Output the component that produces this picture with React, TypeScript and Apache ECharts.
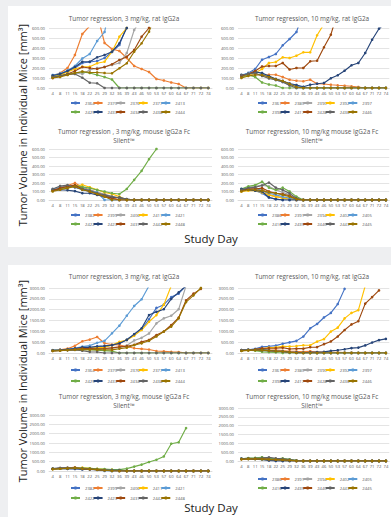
import React, { useEffect, useRef } from 'react';
import * as echarts from 'echarts';

// ---------- categories ----------
const days = ['4', '8', '11', '15', '18', '22', '25', '29', '32', '36', '39', '43', '46', '50', '53', '57', '60', '64', '67', '71', '72', '74'];

// ---------- 3 mg/kg, rat IgG2a ----------
const s2364 = [120, 140, 165, 200, 250, 260, 270, 300, 360, 430, 620, 850, 1100, 1550, 2080, 2230, 2580, 2740, 3100];
const s2370 = [120, 150, 200, 330, 540, 620, 740, 450, 390, 370, 300, 220, 190, 160, 90, 75, 55, 40, 0, 0, 0, 0];
const s2376 = [110, 120, 135, 150, 140, 180, 200, 210, 230, 250, 350, 580, 700, 900, 1370, 1600, 1720, 2020, 3100];
const s2377 = [115, 130, 160, 190, 213, 213, 247, 263, 363, 513, 600, 800, 1060, 1440, 1750, 2230, 3100];
const s2413 = [130, 145, 175, 220, 295, 340, 470, 560, 910, 1260, 1720, 2170, 2480, 3100];
const s2425 = [110, 125, 140, 150, 160, 150, 130, 110, 85, 0, 0, 0, 0, 0, 0, 0, 0, 0, 0, 0, 0, 0];
const s2433 = [125, 140, 170, 210, 263, 263, 307, 330, 363, 447, 600, 870, 1140, 1750, 1900, 2020, 2500, 2800, 3100];
const s2434 = [100, 120, 140, 170, 210, 200, 190, 210, 237, 280, 313, 380, 513, 600, 830, 990, 1290, 1630, 2430, 2740, 2960];
const s2438 = [110, 120, 135, 140, 103, 53, 47, 0, 0, 0, 0, 0, 0, 0, 0, 0, 0, 0, 0, 0, 0, 0];
const s2444 = [100, 110, 130, 150, 165, 155, 155, 150, 147, 197, 247, 363, 447, 563, 760, 990, 1220, 1600, 2350, 2660, 3000];

// ---------- 10 mg/kg, rat IgG2a ----------
const s2361 = [120, 150, 190, 283, 310, 340, 427, 490, 560, 760, 1140, 1340, 1640, 1850, 2260, 2960];
const s2380 = [120, 130, 140, 130, 133, 133, 110, 83, 73, 67, 83, 43, 40, 33, 27, 23, 17, 10, 0, 0, 0, 0];
const s2390 = [110, 130, 140, 130, 110, 90, 70, 40, 20, 0, 0, 0, 0, 0, 0, 0, 0, 0, 0, 0, 0, 0];
const s2392 = [110, 130, 150, 190, 250, 260, 307, 300, 323, 357, 357, 527, 640, 990, 1170, 1600, 1850, 1980, 3100];
const s2397 = [130, 150, 170, 140, 110, 80, 60, 30, 20, 10, 0, 0, 0, 0, 0, 0, 0, 0, 0, 0, 0, 0];
const s2398 = [110, 130, 110, 55, 35, 25, 0, 0, 0, 0, 0, 0, 0, 0, 0, 0, 0, 0, 0, 0, 0, 0];
const s2417 = [130, 140, 160, 150, 120, 90, 70, 45, 30, 12, 33, 43, 50, 97, 127, 173, 227, 250, 350, 483, 593, 650];
const s2428 = [120, 140, 170, 215, 220, 220, 250, 185, 200, 200, 267, 273, 407, 533, 760, 1060, 1320, 1470, 2280, 2580, 2890];
const s2436 = [130, 140, 150, 120, 95, 80, 60, 25, 0, 0, 0, 0, 0, 0, 0, 0, 0, 0, 0, 0, 0, 0];
const s2446 = [100, 120, 130, 130, 110, 85, 70, 40, 10, 0, 0, 0, 0, 0, 0, 0, 0, 0, 0, 0, 0, 0];

// ---------- 3 mg/kg, mouse IgG2a Fc Silent ----------
const s2382 = [120, 140, 160, 150, 120, 100, 80, 50, 0, 0, 0, 0, 0, 0, 0, 0, 0, 0, 0, 0, 0, 0];
const s2399 = [110, 150, 170, 200, 150, 120, 90, 60, 30, 0, 0, 0, 0, 0, 0, 0, 0, 0, 0, 0, 0, 0];
const s2406 = [120, 140, 150, 160, 140, 110, 90, 70, 40, 20, 0, 0, 0, 0, 0, 0, 0, 0, 0, 0, 0, 0];
const s2411 = [110, 130, 150, 160, 180, 150, 120, 90, 70, 40, 0, 0, 0, 0, 0, 0, 0, 0, 0, 0, 0, 0];
const s2421 = [130, 150, 160, 170, 140, 110, 90, 0, 0, 0, 0, 0, 0, 0, 0, 0, 0, 0, 0, 0, 0, 0];
const s2422 = [110, 130, 150, 170, 155, 140, 118, 100, 80, 70, 130, 237, 343, 480, 600, 780, 1460, 1540, 2300];
const s2423 = [120, 120, 115, 105, 80, 80, 60, 40, 30, 30, 10, 0, 0, 0, 0, 0, 0, 0, 0, 0, 0, 0];
const s2431 = [110, 140, 160, 175, 130, 100, 70, 40, 20, 0, 0, 0, 0, 0, 0, 0, 0, 0, 0, 0, 0, 0];
const s2442 = [130, 165, 175, 150, 130, 110, 80, 60, 40, 25, 10, 0, 0, 0, 0, 0, 0, 0, 0, 0, 0, 0];
const s2448 = [100, 120, 140, 160, 120, 100, 70, 40, 0, 0, 0, 0, 0, 0, 0, 0, 0, 0, 0, 0, 0, 0];

// ---------- 10 mg/kg, mouse IgG2a Fc Silent ----------
const s2386 = [120, 120, 110, 80, 30, 10, 0, 0, 0, 0, 0, 0, 0, 0, 0, 0, 0, 0, 0, 0, 0, 0];
const s2391 = [110, 130, 140, 130, 60, 40, 30, 20, 0, 0, 0, 0, 0, 0, 0, 0, 0, 0, 0, 0, 0, 0];
const s2394 = [120, 150, 160, 175, 160, 120, 90, 60, 20, 0, 0, 0, 0, 0, 0, 0, 0, 0, 0, 0, 0, 0];
const s2402 = [100, 110, 110, 90, 60, 40, 20, 10, 0, 0, 0, 0, 0, 0, 0, 0, 0, 0, 0, 0, 0, 0];
const s2405 = [130, 150, 140, 110, 80, 60, 40, 20, 0, 0, 0, 0, 0, 0, 0, 0, 0, 0, 0, 0, 0, 0];
const s2416 = [130, 160, 175, 215, 145, 118, 145, 100, 40, 0, 0, 0, 0, 0, 0, 0, 0, 0, 0, 0, 0, 0];
const s2435 = [130, 120, 110, 100, 30, 10, 0, 0, 0, 0, 0, 0, 0, 0, 0, 0, 0, 0, 0, 0, 0, 0];
const s2440 = [110, 130, 130, 140, 100, 80, 70, 50, 10, 0, 0, 0, 0, 0, 0, 0, 0, 0, 0, 0, 0, 0];
const s2443 = [120, 140, 150, 170, 205, 145, 118, 78, 20, 0, 0, 0, 0, 0, 0, 0, 0, 0, 0, 0, 0, 0];
const s2445 = [100, 120, 120, 110, 90, 80, 60, 40, 10, 0, 0, 0, 0, 0, 0, 0, 0, 0, 0, 0, 0, 0];

// ---------- groups ----------
const rat3Names = ['2364', '2370', '2376', '2377', '2413', '2425', '2433', '2434', '2438', '2444'];
const rat3Values = [s2364, s2370, s2376, s2377, s2413, s2425, s2433, s2434, s2438, s2444];
const rat10Names = ['2361', '2380', '2390', '2392', '2397', '2398', '2417', '2428', '2436', '2446'];
const rat10Values = [s2361, s2380, s2390, s2392, s2397, s2398, s2417, s2428, s2436, s2446];
const mouse3Names = ['2382', '2399', '2406', '2411', '2421', '2422', '2423', '2431', '2442', '2448'];
const mouse3Values = [s2382, s2399, s2406, s2411, s2421, s2422, s2423, s2431, s2442, s2448];
const mouse10Names = ['2386', '2391', '2394', '2402', '2405', '2416', '2435', '2440', '2443', '2445'];
const mouse10Values = [s2386, s2391, s2394, s2402, s2405, s2416, s2435, s2440, s2443, s2445];

const palette = ['#4472C4', '#ED7D31', '#A5A5A5', '#FFC000', '#5B9BD5', '#70AD47', '#264478', '#9E480E', '#636363', '#997300'];

const FONT = "'Open Sans', 'Noto Sans', sans-serif";
const GRAY_TEXT = '#595959';

type Sub = {
  names: string[];
  values: number[][];
  max: number;
  interval: number;
  left: number;
  top: number;
  height: number;
  titleLines: string[];
  titleX: number;
  titleY: number;
  legendLeft: number;
  legendY: [number, number];
};

const L = 49;
const R = 238;
const W = 163;

const subs: Sub[] = [
  // ---- top card (max 600) ----
  { names: rat3Names, values: rat3Values, max: 600, interval: 100, left: L, top: 28, height: 60,
    titleLines: ['Tumor regression, 3 mg/kg, rat IgG2a'], titleX: 124, titleY: 18, legendLeft: 70, legendY: [104, 113] },
  { names: rat10Names, values: rat10Values, max: 600, interval: 100, left: R, top: 28, height: 60,
    titleLines: ['Tumor regression, 10 mg/kg, rat IgG2a'], titleX: 312, titleY: 18, legendLeft: 257, legendY: [104, 113] },
  { names: mouse3Names, values: mouse3Values, max: 600, interval: 100, left: L, top: 149, height: 51,
    titleLines: ['Tumor regression , 3 mg/kg, mouse IgG2a Fc', 'Silent™'], titleX: 124, titleY: 131, legendLeft: 70, legendY: [216, 225] },
  { names: mouse10Names, values: mouse10Values, max: 600, interval: 100, left: R, top: 149, height: 51,
    titleLines: ['Tumor regression, 10 mg/kg mouse IgG2a Fc', 'Silent™'], titleX: 312, titleY: 131, legendLeft: 257, legendY: [216, 225] },
  // ---- bottom card (max 3000) ----
  { names: rat3Names, values: rat3Values, max: 3000, interval: 500, left: L, top: 288, height: 65,
    titleLines: ['Tumor regression, 3 mg/kg, rat IgG2a'], titleX: 124, titleY: 276, legendLeft: 70, legendY: [371, 382] },
  { names: rat10Names, values: rat10Values, max: 3000, interval: 500, left: R, top: 288, height: 65,
    titleLines: ['Tumor regression, 10 mg/kg, rat IgG2a'], titleX: 312, titleY: 276, legendLeft: 257, legendY: [371, 382] },
  { names: mouse3Names, values: mouse3Values, max: 3000, interval: 500, left: L, top: 415, height: 56,
    titleLines: ['Tumor regression, 3 mg/kg, mouse IgG2a Fc', 'Silent™'], titleX: 124, titleY: 396, legendLeft: 70, legendY: [489, 499] },
  { names: mouse10Names, values: mouse10Values, max: 3000, interval: 500, left: R, top: 408, height: 53,
    titleLines: ['Tumor regression, 10 mg/kg mouse IgG2a Fc', 'Silent™'], titleX: 312, titleY: 396, legendLeft: 257, legendY: [480, 489] },
];

function buildOption(): any {
  const grid: any[] = [];
  const xAxis: any[] = [];
  const yAxis: any[] = [];
  const series: any[] = [];
  const legend: any[] = [];
  const graphic: any[] = [];

  subs.forEach((s, k) => {
    grid.push({ left: s.left, top: s.top, width: W, height: s.height, containLabel: false });
    xAxis.push({
      type: 'category', gridIndex: k, data: days, boundaryGap: true,
      axisTick: { show: false },
      axisLine: { lineStyle: { color: '#d9d9d9', width: 0.8 } },
      axisLabel: { interval: 0, fontSize: 4.2, color: GRAY_TEXT, margin: 3, fontFamily: FONT },
      splitLine: { show: false },
    });
    yAxis.push({
      type: 'value', gridIndex: k, min: 0, max: s.max, interval: s.interval,
      axisLine: { show: false }, axisTick: { show: false },
      axisLabel: { fontSize: 4.2, color: GRAY_TEXT, margin: 4, fontFamily: FONT, formatter: (v: number) => v.toFixed(2) },
      splitLine: { lineStyle: { color: '#d9d9d9', width: 0.7 } },
    });
    s.names.forEach((name, i) => {
      series.push({
        type: 'line', name, data: s.values[i], xAxisIndex: k, yAxisIndex: k,
        symbol: 'circle', symbolSize: 2.6, showSymbol: true,
        lineStyle: { width: 1.15, color: palette[i] },
        itemStyle: { color: palette[i] },
        color: palette[i],
        emphasis: { disabled: true },
        z: 2 + i * 0.01,
      });
    });
    [0, 1].forEach((row) => {
      legend.push({
        type: 'plain', orient: 'horizontal', left: s.legendLeft, top: s.legendY[row] - 3,
        data: s.names.slice(row * 5, row * 5 + 5),
        itemWidth: 9, itemHeight: 4, itemGap: -2, padding: 0, selectedMode: false,
        textStyle: { fontSize: 4.2, color: GRAY_TEXT, fontFamily: FONT },
      });
    });
    s.titleLines.forEach((t, j) => {
      graphic.push({
        type: 'text', x: s.titleX, y: s.titleY + j * 9,
        style: { text: t, fontSize: 6.4, fontFamily: FONT, fill: GRAY_TEXT, align: 'center', verticalAlign: 'middle' },
      });
    });
  });

  // axis titles for each card
  [125, 381].forEach((cy) => {
    graphic.push({
      type: 'text', x: 22, y: cy, rotation: Math.PI / 2,
      style: { text: 'Tumor Volume in Individual Mice [mm³]', fontSize: 11, fontFamily: FONT, fill: '#1a1a1a', align: 'center', verticalAlign: 'middle' },
    });
  });
  [238, 507].forEach((cy) => {
    graphic.push({
      type: 'text', x: 211, y: cy,
      style: { text: 'Study Day', fontSize: 11.5, fontFamily: FONT, fill: '#1a1a1a', align: 'center', verticalAlign: 'middle' },
    });
  });

  return {
    animation: false,
    backgroundColor: 'transparent',
    textStyle: { fontFamily: FONT },
    grid, xAxis, yAxis, series, legend, graphic,
    tooltip: { show: false },
  };
}

export default function App() {
  const ref = useRef<HTMLDivElement>(null);
  useEffect(() => {
    if (!ref.current) return;
    const chart = echarts.init(ref.current, undefined, { renderer: 'svg', width: 391, height: 517 });
    chart.setOption(buildOption());
    return () => chart.dispose();
  }, []);
  return (
    <div style={{ position: 'fixed', left: 0, top: 0, width: 391, height: 517, overflow: 'hidden', background: '#eeeff1' }}>
      <div style={{ position: 'absolute', left: 8, top: 6, width: 400, height: 241, background: '#ffffff' }} />
      <div style={{ position: 'absolute', left: 8, top: 265, width: 400, height: 260, background: '#ffffff' }} />
      <div ref={ref} style={{ position: 'absolute', left: 0, top: 0, width: 391, height: 517 }} />
    </div>
  );
}
